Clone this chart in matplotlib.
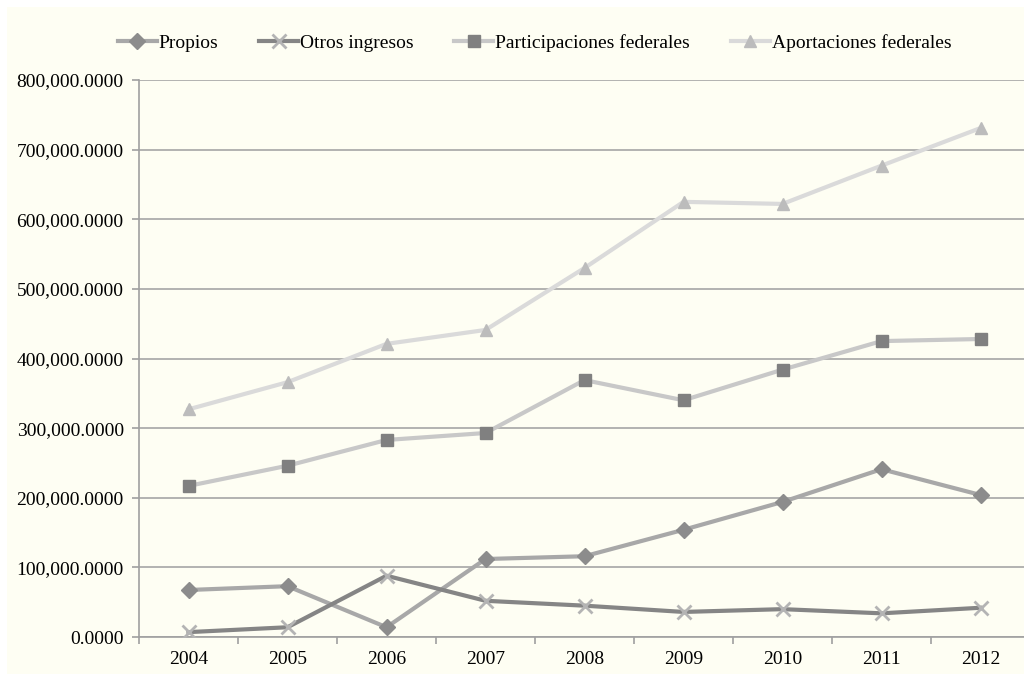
import matplotlib.pyplot as plt
from matplotlib.patches import Rectangle
from matplotlib.ticker import FuncFormatter

years = ['2004', '2005', '2006', '2007', '2008', '2009', '2010', '2011', '2012']
propios = [67500, 73000, 14000, 112000, 116000, 154000, 194000, 241000, 204000]
otros = [7000, 14000, 88000, 52000, 45000, 36000, 40000, 34000, 42000]
participaciones = [217000, 246000, 283000, 293000, 369000, 340000, 384000, 425000, 428000]
aportaciones = [327000, 366000, 421000, 441000, 530000, 625000, 622000, 677000, 731000]

plt.rcParams['font.family'] = ['Liberation Serif', 'DejaVu Serif']

bg = '#fefef3'
fig = plt.figure(figsize=(10.24, 6.77), dpi=100, facecolor='white')
# cream panel behind everything
fig.patches.append(Rectangle((7 / 1024, 3 / 677), 1.0, 667 / 677, transform=fig.transFigure,
                             facecolor=bg, edgecolor='none', zorder=-5))

ax = fig.add_axes([139 / 1024, 1 - 637 / 677, 891 / 1024, 557 / 677])
ax.set_facecolor(bg)
ax.set_zorder(2)

x = list(range(len(years)))
ax.plot(x, propios, color='#a8a8a8', lw=3, marker='D', ms=8.5, mfc='#8c8c8c', mec='#8c8c8c',
        label='Propios', zorder=3)
ax.plot(x, otros, color='#858585', lw=3, marker='x', ms=10, mew=2, mec='#b4b4b4',
        label='Otros ingresos', zorder=3)
ax.plot(x, participaciones, color='#c8c8c8', lw=3, marker='s', ms=8, mfc='#808080', mec='#808080',
        label='Participaciones federales', zorder=3)
ax.plot(x, aportaciones, color='#dadada', lw=3, marker='^', ms=9, mfc='#bcbcbc', mec='#bcbcbc',
        label='Aportaciones federales', zorder=3)

ax.set_xlim(-0.5, len(years) - 0.5)
ax.set_ylim(0, 800000)
ax.set_yticks(range(0, 800001, 100000))
ax.yaxis.set_major_formatter(FuncFormatter(lambda v, p: f'{v:,.4f}'))
ax.set_xticks(x)
ax.set_xticklabels(years)
ax.set_xticks([i + 0.5 for i in range(-1, len(years))], minor=True)
ax.tick_params(axis='x', which='major', length=0, pad=10, labelsize=14)
ax.tick_params(axis='x', which='minor', length=5, color='#a0a0a0', width=1.2)
ax.tick_params(axis='y', length=5, color='#a0a0a0', width=1.2, labelsize=14, pad=6)

ax.grid(axis='y', color='#a6a6a6', lw=1.2, zorder=1)
for s in ['top', 'right']:
    ax.spines[s].set_visible(False)
ax.spines['left'].set_color('#a0a0a0')
ax.spines['left'].set_linewidth(1.2)
ax.spines['bottom'].set_color('#a0a0a0')
ax.spines['bottom'].set_linewidth(1.2)

fig.legend(loc='center', bbox_to_anchor=(0.522, 1 - 43 / 677), ncol=4, frameon=False,
           fontsize=14, handlelength=2.0, handletextpad=0.1, columnspacing=2.1)

fig.savefig('out.png', dpi=100, facecolor='white')
